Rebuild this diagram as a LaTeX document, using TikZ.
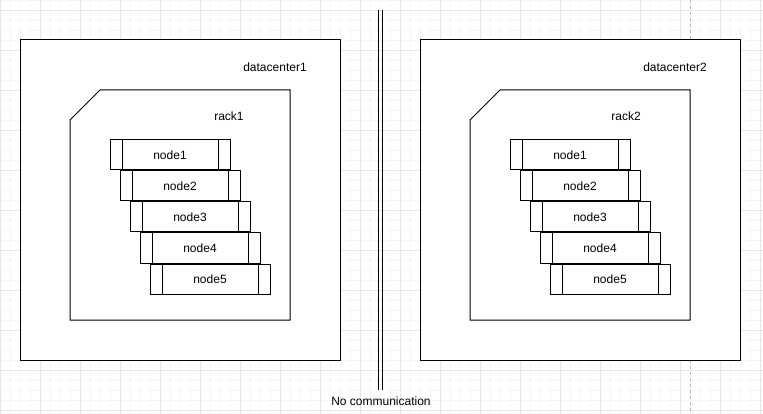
\documentclass[tikz,border=0pt]{standalone}
\usepackage{fontspec}
\setmainfont{Liberation Sans}
\usepackage{xcolor}
\usepackage{tikz}
\usetikzlibrary{positioning}

\definecolor{gridminor}{HTML}{F5F5F5}
\definecolor{gridmajor}{HTML}{E6E6E6}
\definecolor{guideblue}{HTML}{8CC3E3}

\begin{document}
\begin{tikzpicture}[x=1pt,y=-1pt,font=\fontsize{12}{14}\selectfont,
		every node/.style={inner sep=0pt},
		dcbox/.style={draw, line width=1pt, fill=white, minimum width=320pt, minimum height=320pt},
		rackline/.style={draw, line width=1pt, fill=white},
		wall/.style={draw, line width=1pt},
		server/.style={draw, line width=1pt, fill=white, minimum width=120pt, minimum height=30pt,
			path picture={
				\draw[line width=1pt] ([xshift=12pt]path picture bounding box.north west)
					-- ([xshift=12pt]path picture bounding box.south west);
				\draw[line width=1pt] ([xshift=-12pt]path picture bounding box.north east)
					-- ([xshift=-12pt]path picture bounding box.south east);}}]
		\useasboundingbox (0,0) rectangle (763,414);
		% background grid
		\foreach \gx in {0,10,...,760} \draw[gridminor, line width=0.8pt] (\gx,0) -- (\gx,414);
		\foreach \gy in {0,10,...,410} \draw[gridminor, line width=0.8pt] (0,\gy) -- (763,\gy);
		\foreach \gx in {0,40,...,760} \draw[gridmajor, line width=0.8pt] (\gx,0) -- (\gx,414);
		\foreach \gy in {10,50,...,410} \draw[gridmajor, line width=0.8pt] (0,\gy) -- (763,\gy);
		\draw[guideblue, line width=0.8pt, dash pattern=on 3pt off 3pt] (690,0) -- (690,414);

		% first datacenter
		\node[dcbox] (dc1) at (180,200) {};
		\node (dc1label) at (275,67) {datacenter1};
		\path[rackline] (70,120) coordinate (rack1) -- (100,90) -- (290,90) -- (290,320) -- (70,320) -- cycle;
		\node (rack1label) at (229,116) {rack1};
		\node[server] (r1n1) at (170,155) {node1};
		\node[server, below=0pt of r1n1, xshift=10pt] (r1n2) {node2};
		\node[server, below=0pt of r1n2, xshift=10pt] (r1n3) {node3};
		\node[server, below=0pt of r1n3, xshift=10pt] (r1n4) {node4};
		\node[server, below=0pt of r1n4, xshift=10pt] (r1n5) {node5};

		% second datacenter
		\node[dcbox] (dc2) at (580,200) {};
		\node (dc2label) at (675,67) {datacenter2};
		\path[rackline] (470,120) coordinate (rack2) -- (500,90) -- (690,90) -- (690,320) -- (470,320) -- cycle;
		\node (rack2label) at (626,116) {rack2};
		\node[server] (r2n1) at (570,155) {node1};
		\node[server, below=0pt of r2n1, xshift=10pt] (r2n2) {node2};
		\node[server, below=0pt of r2n2, xshift=10pt] (r2n3) {node3};
		\node[server, below=0pt of r2n3, xshift=10pt] (r2n4) {node4};
		\node[server, below=0pt of r2n4, xshift=10pt] (r2n5) {node5};

		% wall between them
		\coordinate (walltop) at (380,10);
		\coordinate (wallbottom) at (380,390);
		\node (nocomm) at (381,401) {No communication};
		\draw[wall] ([xshift=-2pt]walltop) -- ([xshift=-2pt]wallbottom);
		\draw[wall] ([xshift=2pt]walltop) -- ([xshift=2pt]wallbottom);
	\end{tikzpicture}
\end{document}
